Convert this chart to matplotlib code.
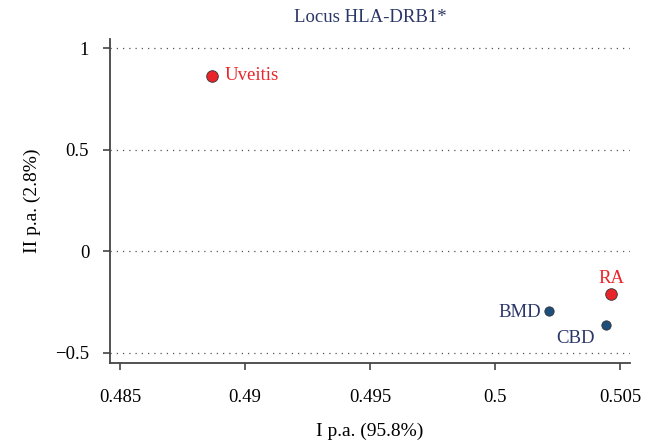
import matplotlib
matplotlib.use("Agg")
import matplotlib.pyplot as plt

plt.rcParams['font.family'] = ['Liberation Serif', 'DejaVu Serif']

names = ["Uveitis", "RA", "BMD", "CBD"]
x_vals = [0.48868, 0.50464, 0.50216, 0.50444]
y_vals = [0.866, -0.208, -0.292, -0.361]
colors = ["#e8262a", "#e8262a", "#1d4f7c", "#1d4f7c"]
label_colors = ["#e8262a", "#e8262a", "#2b3668", "#2b3668"]

x_ticks = [0.485, 0.49, 0.495, 0.5, 0.505]
x_tick_labels = ["0.485", "0.49", "0.495", "0.5", "0.505"]
y_ticks = [-0.5, 0, 0.5, 1]
y_tick_labels = ["\u22120.5", "0", "0.5", "1"]

fig = plt.figure(figsize=(6.53, 4.40), dpi=100)
ax = fig.add_axes([0.1685, 0.175, 0.7963, 0.736])

for yt in y_ticks:
    ax.axhline(yt, color="#555555", linestyle=(0, (1, 4)), linewidth=0.9, zorder=1)

for i in range(len(names)):
    size = 70 if colors[i] == "#e8262a" else 45
    ax.scatter(x_vals[i], y_vals[i], s=size, color=colors[i], edgecolors="#333333",
               linewidths=0.6, zorder=3)

# labels next to points
ax.annotate("Uveitis", (x_vals[0], y_vals[0]), xytext=(9, 0), textcoords="offset points",
            ha="left", va="center", color=label_colors[0], fontsize=13.5)
ax.annotate("RA", (x_vals[1], y_vals[1]), xytext=(0, 5), textcoords="offset points",
            ha="center", va="bottom", color=label_colors[1], fontsize=13.5)
ax.annotate("BMD", (x_vals[2], y_vals[2]), xytext=(-6, -1), textcoords="offset points",
            ha="right", va="center", color=label_colors[2], fontsize=13.5)
ax.annotate("CBD", (x_vals[3], y_vals[3]), xytext=(-8, -10), textcoords="offset points",
            ha="right", va="center", color=label_colors[3], fontsize=13.5)

ax.set_xlim(0.4846, 0.5054)
ax.set_ylim(-0.55, 1.045)
ax.set_xticks(x_ticks)
ax.set_xticklabels(x_tick_labels)
ax.set_yticks(y_ticks)
ax.set_yticklabels(y_tick_labels)

for s in ["top", "right"]:
    ax.spines[s].set_visible(False)
for s in ["left", "bottom"]:
    ax.spines[s].set_color("#444444")
    ax.spines[s].set_linewidth(1.3)
ax.tick_params(direction="out", length=5, width=1.2, color="#444444",
               labelsize=13.5)
ax.tick_params(axis="x", pad=14)
ax.tick_params(axis="y", pad=10)

ax.set_title("Locus HLA-DRB1*", color="#2b3668", fontsize=13.5, pad=12)
ax.set_xlabel("I p.a. (95.8%)", fontsize=14, labelpad=12)
ax.set_ylabel("II p.a. (2.8%)", fontsize=14, labelpad=10)

fig.savefig("out.png", dpi=100)
